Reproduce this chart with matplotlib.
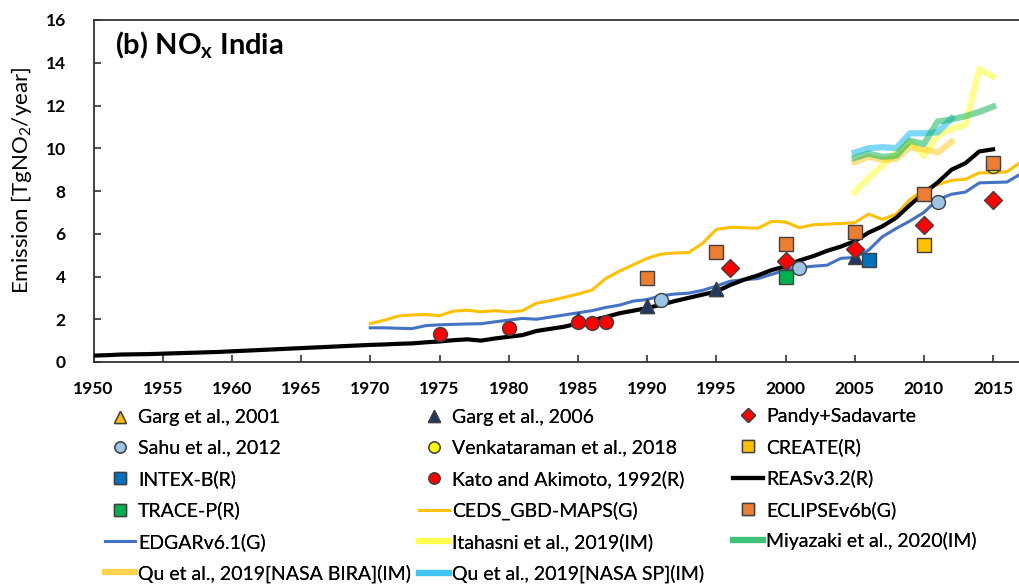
import matplotlib.pyplot as plt
import numpy as np

plt.rcParams["font.family"] = ["Lato", "DejaVu Sans"]
plt.rcParams["mathtext.fontset"] = "custom"
plt.rcParams["mathtext.rm"] = "Lato"
plt.rcParams["mathtext.bf"] = "Lato:bold"

# annual inventories
reas_years = np.arange(1950, 2016)
reas_vals = [0.30, 0.32, 0.35, 0.36, 0.37,
             0.39, 0.41, 0.43, 0.45, 0.47,
             0.50, 0.53, 0.56, 0.59, 0.62,
             0.65, 0.68, 0.71, 0.74, 0.77,
             0.80, 0.82, 0.85, 0.87, 0.92,
             0.96, 1.02, 1.06, 1.00, 1.10,
             1.18, 1.26, 1.45, 1.55, 1.65,
             1.80, 1.95, 2.10, 2.28, 2.40,
             2.52, 2.68, 2.85, 3.00, 3.15,
             3.30, 3.60, 3.85, 4.05, 4.30,
             4.48, 4.75, 4.95, 5.20, 5.40,
             5.65, 6.05, 6.35, 6.75, 7.35,
             7.90, 8.40, 9.00, 9.30, 9.85,
             9.95]

ceds_years = np.arange(1970, 2018)
ceds_vals = [1.80, 1.95, 2.15, 2.20, 2.22,
             2.17, 2.38, 2.42, 2.35, 2.40,
             2.34, 2.40, 2.75, 2.87, 3.02,
             3.18, 3.36, 3.90, 4.25, 4.55,
             4.85, 5.05, 5.10, 5.12, 5.55,
             6.20, 6.30, 6.28, 6.26, 6.58,
             6.55, 6.28, 6.42, 6.45, 6.48,
             6.52, 6.92, 6.67, 6.92, 7.60,
             8.05, 8.30, 8.50, 8.55, 8.85,
             8.85, 8.90, 9.35]

edgar_years = np.arange(1970, 2018)
edgar_vals = [1.60, 1.60, 1.58, 1.56, 1.70,
              1.74, 1.76, 1.78, 1.79, 1.88,
              1.96, 2.04, 2.00, 2.10, 2.20,
              2.30, 2.40, 2.55, 2.66, 2.85,
              2.92, 3.10, 3.18, 3.22, 3.35,
              3.55, 3.78, 3.85, 3.90, 4.10,
              4.30, 4.42, 4.48, 4.53, 4.85,
              4.89, 5.23, 5.86, 6.25, 6.60,
              7.00, 7.60, 7.85, 7.95, 8.38,
              8.40, 8.42, 8.80]

# inverse modelling
itahashi_years = np.arange(2005, 2016)
itahashi_vals = [7.95, 8.60, 9.20, 9.80, 10.30, 9.65, 10.60, 10.90, 11.10, 13.70, 13.35]
miyazaki_years = np.arange(2005, 2016)
miyazaki_vals = [9.55, 9.75, 9.60, 9.65, 10.35, 10.20, 11.25, 11.35, 11.50, 11.70, 11.95]
qu_bira_years = np.arange(2005, 2013)
qu_bira_vals = [9.35, 9.60, 9.45, 9.50, 10.05, 9.95, 9.80, 10.30]
qu_sp_years = np.arange(2005, 2013)
qu_sp_vals = [9.80, 10.00, 10.05, 10.00, 10.70, 10.70, 10.75, 11.40]

# point estimates
garg01_years = [1990, 1995]
garg01_vals = [2.60, 3.40]
garg06_years = [1985, 1990, 1995, 2005]
garg06_vals = [2.00, 2.60, 3.40, 4.90]
pandey_years = [1996, 2000, 2005, 2010, 2015]
pandey_vals = [4.38, 4.72, 5.27, 6.40, 7.57]
sahu_years = [1991, 2001, 2011]
sahu_vals = [2.90, 4.42, 7.49]
venkat_years = [2015]
venkat_vals = [9.15]
create_years = [2010]
create_vals = [5.47]
intex_years = [2006]
intex_vals = [4.77]
kato_years = [1975, 1980, 1985, 1986, 1987]
kato_vals = [1.29, 1.60, 1.85, 1.81, 1.85]
tracep_years = [2000]
tracep_vals = [3.96]
eclipse_years = [1990, 1995, 2000, 2005, 2010, 2015]
eclipse_vals = [3.91, 5.16, 5.50, 6.09, 7.85, 9.30]


def main():
    W, H = 1019, 584
    fig = plt.figure(figsize=(W / 100, H / 100), dpi=100)
    left, bottom, top = 93.5, 362, 20
    ax = fig.add_axes([left / W, 1 - bottom / H, 1 - left / W, (bottom - top) / H])

    h = {}
    h["edgar"], = ax.plot(edgar_years, edgar_vals, color="#4472C4", lw=2.2, label="EDGARv6.1(G)", zorder=2)
    h["ceds"], = ax.plot(ceds_years, ceds_vals, color="#FFC000", lw=2.2, label="CEDS_GBD-MAPS(G)", zorder=2)
    h["reas"], = ax.plot(reas_years, reas_vals, color="black", lw=3, label="REASv3.2(R)", zorder=3)

    h["itahashi"], = ax.plot(itahashi_years, itahashi_vals, color="#FFFF00", alpha=0.45, lw=4.5,
                             label="Itahasni et al., 2019(IM)", zorder=3)
    h["qu_bira"], = ax.plot(qu_bira_years, qu_bira_vals, color="#FFC000", alpha=0.45, lw=4.5,
                            label="Qu et al., 2019[NASA BIRA](IM)", zorder=3)
    h["qu_sp"], = ax.plot(qu_sp_years, qu_sp_vals, color="#00B0F0", alpha=0.5, lw=4.5,
                          label="Qu et al., 2019[NASA SP](IM)", zorder=3)
    h["miyazaki"], = ax.plot(miyazaki_years, miyazaki_vals, color="#00B050", alpha=0.5, lw=4.5,
                             label="Miyazaki et al., 2020(IM)", zorder=3)

    mk = dict(ls="none", ms=10, mec="#404040", mew=1, zorder=5)
    h["garg01"], = ax.plot(garg01_years, garg01_vals, marker="^", mfc="#FFC000", label="Garg et al., 2001", **mk)
    h["garg06"], = ax.plot(garg06_years, garg06_vals, marker="^", mfc="#203864", label="Garg et al., 2006", **mk)
    h["sahu"], = ax.plot(sahu_years, sahu_vals, marker="o", mfc="#9DC3E6", label="Sahu et al., 2012", **mk)
    h["venkat"], = ax.plot(venkat_years, venkat_vals, marker="o", mfc="#FFFF00",
                           label="Venkataraman et al., 2018", **mk)
    h["create"], = ax.plot(create_years, create_vals, marker="s", mfc="#FFC000", label="CREATE(R)", **mk)
    h["intex"], = ax.plot(intex_years, intex_vals, marker="s", mfc="#0070C0", label="INTEX-B(R)", **mk)
    h["kato"], = ax.plot(kato_years, kato_vals, marker="o", mfc="#FF0000",
                         label="Kato and Akimoto, 1992(R)", **mk)
    h["tracep"], = ax.plot(tracep_years, tracep_vals, marker="s", mfc="#00B050", label="TRACE-P(R)", **mk)
    h["eclipse"], = ax.plot(eclipse_years, eclipse_vals, marker="s", mfc="#ED7D31", label="ECLIPSEv6b(G)", **mk)
    h["pandey"], = ax.plot(pandey_years, pandey_vals, marker="D", ms=9, mfc="#FF0000", mec="#404040",
                           mew=1, ls="none", label="Pandy+Sadavarte", zorder=6)

    ax.set_xlim(1950, 1950 + (W - left) / 13.84)
    ax.set_ylim(0, 16)
    ax.set_xticks(np.arange(1950, 2016, 5))
    ax.set_yticks(np.arange(0, 17, 2))
    ax.tick_params(axis="both", direction="in", length=5, width=1.2, color="#333333",
                   labelsize=12.5)
    ax.tick_params(axis="x", pad=14)
    ax.tick_params(axis="y", pad=20)
    for lab in ax.get_xticklabels() + ax.get_yticklabels():
        lab.set_fontweight("bold")
    for s in ["left", "bottom", "top"]:
        ax.spines[s].set_color("#333333")
        ax.spines[s].set_linewidth(1.3)
    ax.spines["right"].set_visible(False)

    ax.set_ylabel("Emission [TgNO$_2$/year]", fontsize=16)
    ax.yaxis.set_label_coords((34 - left) / (W - left), (bottom - 180) / (bottom - top))
    ax.text(0.023, 0.927, r"(b) NO$_{\mathbf{x}}$ India", transform=ax.transAxes,
            fontsize=21, fontweight="bold", va="center", ha="left")

    cols = [
        ["garg01", "sahu", "intex", "tracep", "edgar", "qu_bira"],
        ["garg06", "venkat", "kato", "ceds", "itahashi", "qu_sp"],
        ["pandey", "create", "reas", "eclipse", "miyazaki"],
    ]
    col_x = [105, 419, 733]
    col_y = [496, 496, 479]
    for keys, x, y in zip(cols, col_x, col_y):
        hs = [h[k] for k in keys]
        leg = fig.legend(hs, [hh.get_label() for hh in hs], loc="center left",
                         bbox_to_anchor=(x / W, 1 - y / H), frameon=False, fontsize=14,
                         handlelength=1.55, handletextpad=0.15, labelspacing=0.69,
                         borderpad=0, borderaxespad=0, markerscale=0.8)
        fig.add_artist(leg)

    fig.savefig("out.png", dpi=100)


if __name__ == "__main__":
    main()
